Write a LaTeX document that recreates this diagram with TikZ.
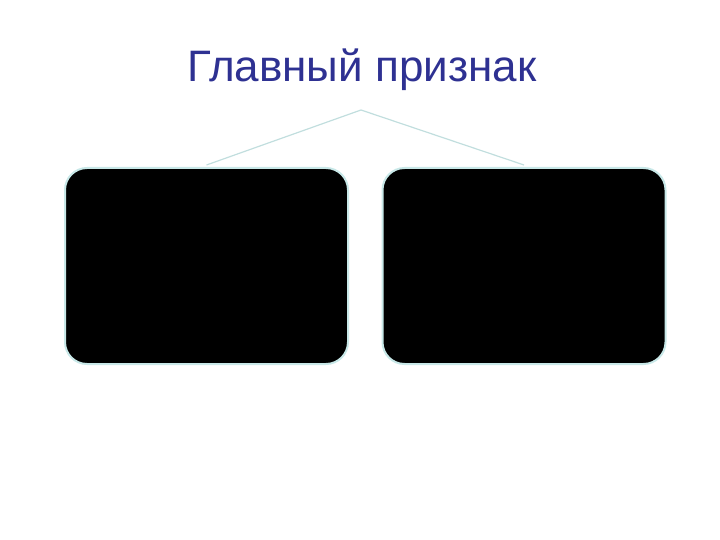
\documentclass[tikz,border=0pt]{standalone}
\usepackage{fontspec}
\setmainfont{Liberation Sans}
\definecolor{titleblue}{RGB}{46,49,146}
\definecolor{edgecyan}{RGB}{200,232,232}
\tikzset{
	kindbox/.style={draw=edgecyan, line width=2pt, fill=black, rounded corners=22pt,
		minimum width=283pt, minimum height=196pt, inner sep=0pt},
	branch/.style={draw=edgecyan!90!gray, line width=1.2pt}
}
\begin{document}
\begin{tikzpicture}[x=1pt,y=-1pt]
		\useasboundingbox (0,0) rectangle (720,540);
		\node[text=titleblue, font=\fontsize{44}{52}\selectfont, anchor=base, inner sep=0pt] (title) at (362,82) {Главный признак};
		\coordinate (top) at (361,110);
		\node[kindbox] (left) at (206.5,266) {};
		\node[kindbox] (right) at (524,266) {};
		\draw[branch] (top) to ([yshift=2pt]left.north);
		\draw[branch] (top) to ([yshift=2pt]right.north);
	\end{tikzpicture}
\end{document}
